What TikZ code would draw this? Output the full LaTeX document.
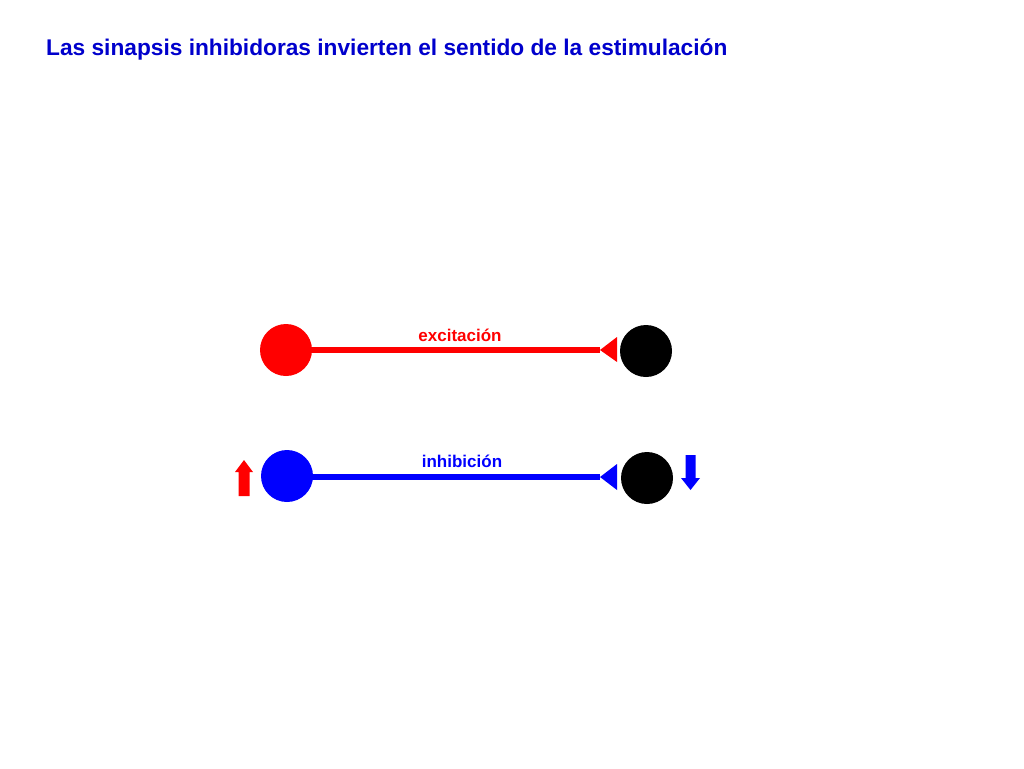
\documentclass[tikz,border=0pt]{standalone}
\usepackage{fontspec}
\setmainfont{Liberation Sans}
\definecolor{tblue}{RGB}{0,0,204}
\definecolor{lblue}{RGB}{0,0,255}
\definecolor{lred}{RGB}{255,0,0}
\begin{document}
\begin{tikzpicture}[x=1pt,y=-1pt,
  cell/.style={circle,minimum size=52pt,inner sep=0pt,outer sep=0pt},
  link/.style={line width=6pt},
  lbl/.style={font=\fontsize{17}{20}\selectfont\bfseries,inner sep=0pt}]
\useasboundingbox (0,0) rectangle (1024,768);
\fill[white] (0,0) rectangle (1024,768);
\node[anchor=base west,inner sep=0pt,text=tblue,font=\fontsize{22.7}{27}\selectfont\bfseries] (title) at (46,56) {Las sinapsis inhibidoras invierten el sentido de la estimulación};
% excitation row
\node[cell,fill=lred] (e1) at (286,350) {};
\node[cell,fill=black] (e2) at (646,351) {};
\coordinate (et) at (600,350);
\draw[link,lred] (e1.center) -- (et);
\fill[lred] (et) -- (617,337) -- (617,362) -- cycle;
\node[lbl,text=lred] (el) at (460,335) {excitación};
% inhibition row
\node[cell,fill=lblue] (i1) at (287,476) {};
\node[cell,fill=black] (i2) at (647,478) {};
\coordinate (it) at (600,477);
\draw[link,lblue] (i1.center |- it) -- (it);
\fill[lblue] (it) -- (617,464) -- (617,490) -- cycle;
\node[lbl,text=lblue] (il) at (462,461) {inhibición};
% up arrow (red)
\fill[lred] (238.5,496) -- (238.5,472) -- (235,472) -- (244,460) -- (253,472) -- (249.5,472) -- (249.5,496) -- cycle;
% down arrow (blue)
\fill[lblue] (685.5,455) -- (685.5,478) -- (681,478) -- (690.5,490) -- (700,478) -- (695.5,478) -- (695.5,455) -- cycle;
\end{tikzpicture}
\end{document}
